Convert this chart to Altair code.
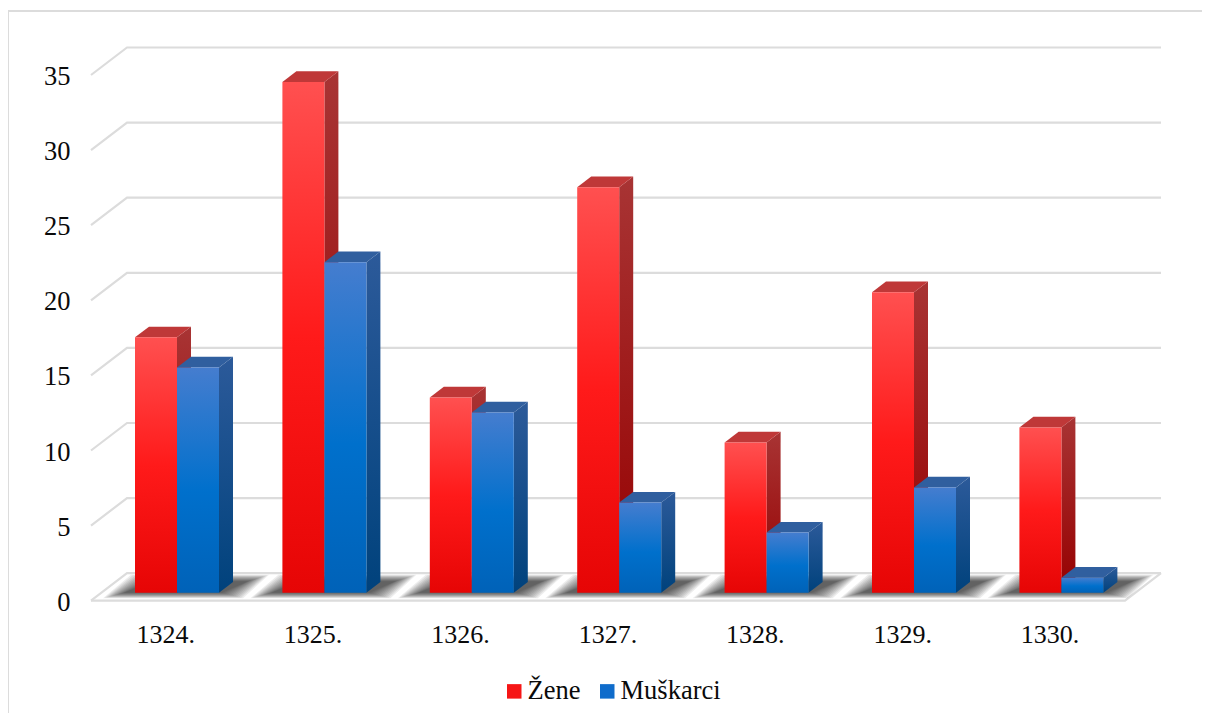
import altair as alt
import pandas as pd

years = ["1324.", "1325.", "1326.", "1327.", "1328.", "1329.", "1330."]
zene = [17, 34, 13, 27, 10, 20, 11]
muskarci = [15, 22, 12, 6, 4, 7, 1]
ticks = [0, 5, 10, 15, 20, 25, 30, 35]
series = ["Žene", "Muškarci"]

W, H = 1194, 705
XU, YU = 147.4, 15.02      # pixels per category / per value unit
X0, Y0 = 177.0, 600.7      # page position of first group centre / of value 0
FONT = "Liberation Serif"


def ux(p):
    return p / XU


def uy(p):
    return p / YU


xs = alt.Scale(domain=[ux(8 - X0), ux(8 + W - X0)], nice=False, zero=False)
ys = alt.Scale(domain=[uy(Y0 - 8 - H), uy(Y0 - 8)], nice=False, zero=False)
X_AX = alt.Axis(values=[i - 0.08 for i in range(len(years))],
                labelExpr="round(datum.value + 0.08) + 1324 + '.'",
                title=None, domain=False, ticks=False, grid=False, tickSize=0, labelPadding=0,
                offset=-92, labelFont=FONT, labelFontSize=26, labelColor="#0a0a0a",
                labelFlush=False, labelOverlap=False, labelAngle=0)
Y_AX = alt.Axis(values=ticks, title=None, domain=False, ticks=False, grid=False, tickSize=0,
                labelPadding=0, offset=-62, labelFont=FONT, labelFontSize=26.5, labelOffset=1.5,
                labelColor="#0a0a0a", labelOverlap=False, labelFlush=False)

BAR_W = ux(42)
DEPTH_X, DEPTH_Y = ux(14), uy(10.7)
BASE = uy(8)
BACK_X, BACK_Y = ux(36), uy(27.5)
LEFT, RIGHT_FRONT = ux(91 - X0), ux(1125 - X0)


def grad(*stops):
    return alt.LinearGradient(gradient="linear", x1=0, x2=0, y1=0, y2=1,
                              stops=[alt.GradientStop(color=c, offset=o) for o, c in stops])


# ---- grid + floor
grid_rows = []
for t in ticks:
    for n, (x, y) in enumerate([(LEFT, t), (LEFT + BACK_X, t + BACK_Y),
                                (RIGHT_FRONT + BACK_X, t + BACK_Y)]):
        grid_rows.append(dict(id=f"g{t}", n=n, x=x, y=y))
for n, (x, y) in enumerate([(LEFT, 0), (RIGHT_FRONT, 0), (RIGHT_FRONT + BACK_X, BACK_Y)]):
    grid_rows.append(dict(id="floor", n=n, x=x, y=y))
grid = alt.Chart(pd.DataFrame(grid_rows)).mark_line(color="#dcdcdc", strokeWidth=2.2).encode(
    x=alt.X("x:Q", scale=xs, axis=X_AX),
    y=alt.Y("y:Q", scale=ys, axis=Y_AX),
    detail="id:N", order="n:Q")

# ---- soft shadow under each group (nested translucent floors)
sh_rows = []
for i in range(len(years)):
    for k in range(12):
        low = uy(2.5 + k * 0.5)
        high = uy(26 - k * 0.6)
        inset = ux(k * 1.9)
        for n, (y, a, b) in enumerate([
            (low, i + ux(-74) + inset, i + ux(66) - inset),
            (high, i + ux(-46) + inset, i + ux(92) - inset)]):
            sh_rows.append(dict(id=f"s{i}-{k}", n=n, y=y, a=a, b=b))
shadow = alt.Chart(pd.DataFrame(sh_rows)).mark_area(
    orient="horizontal", color="#000000", opacity=0.075).encode(
    x=alt.X("a:Q", scale=xs), x2="b:Q",
    y=alt.Y("y:Q", scale=ys), detail="id:N")


def faces(values, start, front, side, top):
    fr, sd, tp = [], [], []
    for i, v in enumerate(values):
        l = i + start
        r = l + BAR_W
        lo, hi = BASE, BASE + v
        fr.append(dict(l=l, r=r, lo=lo, hi=hi))
        sd += [dict(id=i, n=0, x=r, lo=lo, hi=hi),
               dict(id=i, n=1, x=r + DEPTH_X, lo=lo + DEPTH_Y, hi=hi + DEPTH_Y)]
        tp += [dict(id=i, n=0, y=hi, a=l, b=r),
               dict(id=i, n=1, y=hi + DEPTH_Y, a=l + DEPTH_X, b=r + DEPTH_X)]
    side_l = alt.Chart(pd.DataFrame(sd)).mark_area(fill=side, orient="vertical").encode(
        x=alt.X("x:Q", scale=xs),
        y=alt.Y("hi:Q", scale=ys), y2="lo:Q", detail="id:N")
    top_l = alt.Chart(pd.DataFrame(tp)).mark_area(fill=top, orient="horizontal").encode(
        x=alt.X("a:Q", scale=xs), x2="b:Q",
        y=alt.Y("y:Q", scale=ys), detail="id:N")
    front_l = alt.Chart(pd.DataFrame(fr)).mark_rect(fill=front).encode(
        x=alt.X("l:Q", scale=xs), x2="r:Q",
        y=alt.Y("hi:Q", scale=ys), y2="lo:Q")
    return [side_l, top_l, front_l]


red = faces(zene, -BAR_W, grad((0, "#ff5050"), (0.5, "#ff1a1a"), (1, "#e60505")),
            grad((0, "#a83434"), (1, "#960000")), "#bf3838")
blue = faces(muskarci, 0, grad((0, "#457dcf"), (0.55, "#0070cc"), (1, "#0062b8")),
             grad((0, "#2c5a9a"), (1, "#00427c")), "#305f9f")

# ---- legend (carried by zero-sized points)
legend = alt.Chart(pd.DataFrame({"s": series, "x": [0, 0], "y": [0, 0]})).mark_square(size=0).encode(
    x=alt.X("x:Q", scale=xs),
    y=alt.Y("y:Q", scale=ys),
    color=alt.Color("s:N", scale=alt.Scale(domain=series, range=["#f61616", "#0f6ccb"]),
                    legend=alt.Legend(orient="none", legendX=493, legendY=670, direction="horizontal",
                                      title=None, symbolType="square", symbolSize=210,
                                      symbolOpacity=1, symbolStrokeWidth=0, labelFont=FONT,
                                      labelFontSize=26.5, labelColor="#0a0a0a", labelOffset=0,
                                      columnPadding=13, padding=0)))

# ---- outer frame
frame_top = alt.Chart(pd.DataFrame({"a": [0]})).mark_rule(color="#dcdcdc", strokeWidth=2).encode(
    x=alt.value(0), x2=alt.value(W), y=alt.value(3))
frame_left = alt.Chart(pd.DataFrame({"a": [0]})).mark_rule(color="#dcdcdc", strokeWidth=2).encode(
    y=alt.value(3), y2=alt.value(H), x=alt.value(0))

chart = alt.layer(grid, shadow, *red, *blue, legend, frame_top, frame_left).properties(
    width=W, height=H, padding=0, autosize=alt.AutoSizeParams(type="none"),
    background="#ffffff").configure_view(stroke=None)

chart.save("out.html", embed_options={"renderer": "svg", "actions": False})
